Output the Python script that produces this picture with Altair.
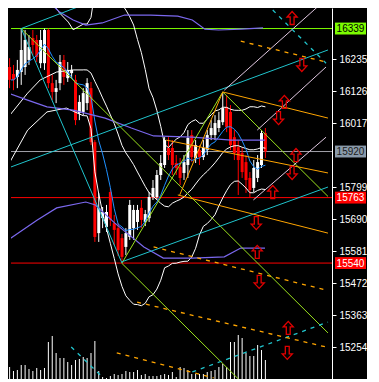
import altair as alt
import pandas as pd

# ---------------- candles (price) ----------------
idx = list(range(67))
opens = [16208,16184,16174,16191,16208,16232,16307,16300,16221,16221,
         16334,16153,16123,16153,16232,16170,16187,16164,16051,16055,
         16085,16136,15952,15642,15693,15663,15782,15676,15659,15625,
         15595,15629,15659,15680,15728,15680,15693,15765,15765,15840,
         15874,15932,15932,15881,15867,15847,15874,15976,15898,15925,
         15901,15925,15976,15976,16000,16020,16072,16055,15969,15935,
         15915,15884,15830,15796,15830,15874,15983]
closes = [16164,16164,16198,16266,16300,16276,16283,16242,16300,16334,
          16153,16123,16136,16225,16174,16198,16198,16027,16089,16119,
          16153,15952,15629,15728,15714,15714,15687,15653,15584,15561,
          15642,15738,15721,15721,15687,15707,15765,15796,15840,15881,
          15959,15908,15874,15864,15830,15884,15966,15901,15942,15901,
          15932,15976,16000,16017,16027,16068,16003,15942,15915,15891,
          15850,15823,15789,15864,15884,15983,15920]
highs = [16238,16215,16232,16339,16334,16317,16334,16317,16334,16339,
         16339,16181,16164,16249,16249,16225,16215,16181,16112,16136,
         16170,16157,15959,15779,15731,15738,15796,15704,15676,15639,
         15659,15755,15738,15738,15755,15721,15782,15823,15857,15908,
         15969,15969,15959,15908,15898,15908,15993,15993,15959,15942,
         15959,15993,16027,16044,16055,16123,16112,16078,15993,15959,
         15932,15908,15850,15891,15908,15993,16000]
lows = [16136,16129,16136,16147,16181,16215,16249,16225,16204,16198,
        16136,16095,16085,16129,16147,16157,16170,16010,16027,16044,
        16061,15942,15612,15612,15659,15646,15666,15601,15564,15540,
        15567,15619,15619,15653,15659,15666,15680,15755,15755,15823,
        15864,15891,15840,15840,15806,15823,15830,15884,15881,15874,
        15891,15908,15959,15959,15986,16010,15986,15925,15891,15772,
        15830,15779,15763,15782,15816,15864,15898]
volumes = [1200,800,900,1400,1400,1000,800,1100,900,1100,
           3700,4300,2600,2100,2100,1700,1400,1900,2000,2200,
           2100,2600,3800,800,200,100,300,500,400,500,
           800,700,700,900,400,500,300,300,300,400,
           500,400,700,200,1200,1100,900,500,500,500,
           500,700,800,900,1200,1500,1200,3700,3700,4400,
           4100,2600,2300,2300,3400,2900,1900]

# early Bollinger band segments (before 20 bars of history are on screen)
early_mid_i = [-0.35, 4.65, 7.9, 12.15, 16.4, 19]
early_mid_p = [16037, 16119, 16164, 16191, 16198, 16198]
early_up_i = [9.65, 12.9, 15.15, 16.4, 19]
early_up_p = [16450, 16392, 16361, 16335, 16354]
early_lo_i = [-0.35, 4.65, 9.65, 14.65, 19]
early_lo_p = [15874, 15993, 16055, 16068, 16042]

# slow envelope (purple)
pu_i = [4.65, 9.65, 12.9, 16.4, 19.65, 23.9, 29.65, 36.4, 43.4, 47.15, 50.4, 53.9, 59.65, 65.4]
pu_p = [16480, 16436, 16395, 16368, 16351, 16358, 16385, 16385, 16381, 16368, 16337, 16334, 16337, 16341]
pm_i = [-0.35, 4.65, 9.65, 16.4, 24.65, 31.4, 37.15, 47.15, 57.15, 65.9]
pm_p = [16119, 16095, 16072, 16061, 16034, 16000, 15973, 15969, 15959, 15959]
pl_i = [-0.35, 7.15, 12.15, 19.65, 22.15, 27.15, 34.65, 39.65, 47.15, 55.4, 59.65, 65.9]
pl_p = [15619, 15687, 15728, 15748, 15738, 15676, 15595, 15557, 15557, 15561, 15591, 15591]

# trend lines: start index, start price, end index, end price, colour
solid_x1 = [3, 28.9, 55, 29, 3, 3, -0.35, 28.9, 55, 43.9, 40.4, 43.4, 55.4, 63.9, 62.9]
solid_p1 = [16339, 15540, 16123, 15540, 16339, 16339, 15864, 15544, 16123, 15772, 15959, 15772, 16129, 15993, 15755]
solid_x2 = [82.15, 62.15, 82.15, 55, 29, 25, 82.15, 82.15, 82.15, 55, 82.15, 82.15, 81.4, 81.65, 81.65]
solid_p2 = [15302, 15104, 15767, 16123, 15540, 16450, 16266, 15799, 16034, 16123, 15847, 15642, 16436, 16208, 15969]
solid_col = ["#9BE21E", "#9BE21E", "#9BE21E", "#9BE21E", "#20C4CC", "#20C4CC", "#20C4CC", "#20C4CC",
             "#FFA500", "#FFA500", "#FFA500", "#FFA500", "#E0C8E0", "#E0C8E0", "#E0C8E0"]

dash_x1 = [67.9, 15.9, 47.15, 59.65, 32.9, 37.15, 27.65, 77.9]
dash_p1 = [16402, 15254, 15169, 16296, 15407, 15595, 15234, 16436]
dash_x2 = [81.65, 23.9, 82.15, 81.65, 81.65, 81.65, 52.65, 81.65]
dash_p2 = [16221, 15152, 15339, 16225, 15254, 15448, 15149, 16422]
dash_col = ["#20C4CC", "#20C4CC", "#20C4CC", "#FFA500", "#FFA500", "#FFA500", "#FFA500", "#FFA500"]

# horizontal price levels
level_p = [16339, 15920, 15763, 15540]
level_col = ["#7CFC00", "#A0A0A8", "#FF0000", "#FF0000"]
level_bg = ["#7CFC00", "#8A9AAA", "#FF0000", "#FF0000"]
level_txt = ["#000000", "#1A1A1A", "#FFFFFF", "#FFFFFF"]
level_lab = ["16339", "15920", "15763", "15540"]

# signal arrows
up_i = [72.9, 70.9, 73.9, 67.9, 63.9, 71.9]
up_p = [16375, 16089, 15908, 15782, 15578, 15319]
dn_i = [75.4, 69.4, 72.9, 63.65, 64.4, 71.65]
dn_p = [16215, 16034, 15847, 15676, 15476, 15234]

axis_vals = [16235, 16126, 16017, 15799, 15690, 15581, 15472, 15363, 15254]

# ---------------- chart ----------------
W, H = 321, 371
xs = alt.Scale(domain=[1.65, 81.9], nice=False, zero=False)
ys = alt.Scale(domain=[15145, 16409], nice=False, zero=False)
XAX = alt.Axis(labels=False, ticks=False, grid=False, domain=True, domainColor="#FFFFFF",
               domainWidth=1, title=None)
YAX = alt.Axis(orient="right", values=axis_vals, format="d", grid=False, title=None,
               domainColor="#FFFFFF", tickColor="#FFFFFF", tickSize=4, labelColor="#FFFFFF",
               labelFont="Liberation Sans", labelFontSize=10, labelPadding=3)


def X(f):
    return alt.X(f, type="quantitative", scale=xs, axis=XAX)


def Y(f):
    return alt.Y(f, type="quantitative", scale=ys, axis=YAX)


cd = pd.DataFrame({"i": idx, "open": opens, "high": highs, "low": lows,
                   "close": closes, "vol": volumes})
updown = alt.condition("datum.close >= datum.open", alt.value("#FFFFFF"), alt.value("#FF0000"))

vol = alt.Chart(cd).mark_bar(width=1, color="#FFFFFF").encode(
    x=X("i"),
    y=alt.Y("vol:Q", scale=alt.Scale(domain=[0, 37100], nice=False), axis=None),
)

levels_df = pd.DataFrame({"p": level_p, "col": level_col, "bg": level_bg,
                          "tc": level_txt, "lab": level_lab})
levels = alt.Chart(levels_df).mark_rule(strokeWidth=1).encode(
    y=Y("p"), color=alt.Color("col:N", scale=None))

wick = alt.Chart(cd).mark_rule(strokeWidth=1).encode(
    x=X("i"), y=Y("low"), y2="high", color=updown)
body = alt.Chart(cd).mark_bar(width=3).encode(
    x=X("i"), y=Y("open"), y2="close", color=updown)

bands = alt.Chart(cd).transform_window(
    ma="mean(close)", sd="stdevp(close)", frame=[-19, 0], sort=[alt.SortField("i")]
).transform_filter("datum.i >= 19").transform_calculate(
    ub="datum.ma + 2*datum.sd", lb="datum.ma - 2*datum.sd"
).transform_fold(["ub", "ma", "lb"], as_=["band", "val"]).mark_line(
    color="#FFFFFF", strokeWidth=1, clip=True
).encode(x=X("i"), y=Y("val"), detail="band:N")

early_df = pd.DataFrame({
    "band": ["m"] * len(early_mid_i) + ["u"] * len(early_up_i) + ["l"] * len(early_lo_i),
    "i": early_mid_i + early_up_i + early_lo_i,
    "p": early_mid_p + early_up_p + early_lo_p,
})
early = alt.Chart(early_df).mark_line(color="#FFFFFF", strokeWidth=1, clip=True).encode(
    x=X("i"), y=Y("p"), detail="band:N")

blue = alt.Chart(cd).transform_window(
    ma7="mean(close)", frame=[-6, 0], sort=[alt.SortField("i")]
).mark_line(color="#1E90FF", strokeWidth=1, clip=True).encode(x=X("i"), y=Y("ma7"))

purple_df = pd.DataFrame({
    "band": ["u"] * len(pu_i) + ["m"] * len(pm_i) + ["l"] * len(pl_i),
    "i": pu_i + pm_i + pl_i,
    "p": pu_p + pm_p + pl_p,
})
purple = alt.Chart(purple_df).mark_line(color="#7B68EE", strokeWidth=1.2, clip=True).encode(
    x=X("i"), y=Y("p"), detail="band:N")

solid_df = pd.DataFrame({"x1": solid_x1, "p1": solid_p1, "x2": solid_x2, "p2": solid_p2, "col": solid_col})
solid = alt.Chart(solid_df).mark_rule(strokeWidth=1, clip=True).encode(
    x=X("x1"), y=Y("p1"), x2="x2", y2="p2", color=alt.Color("col:N", scale=None))

dash_df = pd.DataFrame({"x1": dash_x1, "p1": dash_p1, "x2": dash_x2, "p2": dash_p2, "col": dash_col})
dashed = alt.Chart(dash_df).mark_rule(strokeWidth=1.3, strokeDash=[4, 5], clip=True).encode(
    x=X("x1"), y=Y("p1"), x2="x2", y2="p2", color=alt.Color("col:N", scale=None))

UP = "M0,-1L0.78,-0.15L0.3,-0.15L0.3,1L-0.3,1L-0.3,-0.15L-0.78,-0.15Z"
DN = "M0,1L0.78,0.15L0.3,0.15L0.3,-1L-0.3,-1L-0.3,0.15L-0.78,0.15Z"
up_df = pd.DataFrame({"i": up_i, "p": up_p})
dn_df = pd.DataFrame({"i": dn_i, "p": dn_p})
up_ar = alt.Chart(up_df).mark_point(shape=UP, filled=False, size=169, color="#E00000",
                                    strokeWidth=1.3, opacity=1).encode(x=X("i"), y=Y("p"))
dn_ar = alt.Chart(dn_df).mark_point(shape=DN, filled=False, size=169, color="#E00000",
                                    strokeWidth=1.3, opacity=1).encode(x=X("i"), y=Y("p"))

BOX = "M-1.3,-0.5L1.3,-0.5L1.3,0.5L-1.3,0.5Z"
lab_box = alt.Chart(levels_df).mark_point(shape=BOX, filled=True, size=567, opacity=1,
                                          strokeWidth=0).encode(
    x=alt.value(339.5), y=Y("p"), color=alt.Color("bg:N", scale=None))
lab_txt = alt.Chart(levels_df).mark_text(font="Liberation Sans", fontSize=10,
                                         align="center", baseline="middle", dy=0.5).encode(
    x=alt.value(339.5), y=Y("p"), text="lab:N", color=alt.Color("tc:N", scale=None))

price = alt.layer(levels, wick, body, bands, early, blue, purple, solid, dashed,
                  up_ar, dn_ar, lab_box, lab_txt)

chart = alt.layer(vol, price).resolve_scale(y="independent").properties(
    width=W, height=H, background="#000000", padding=0
).configure_view(stroke=None)

chart.save("out.html", embed_options={"renderer": "svg", "actions": False})
